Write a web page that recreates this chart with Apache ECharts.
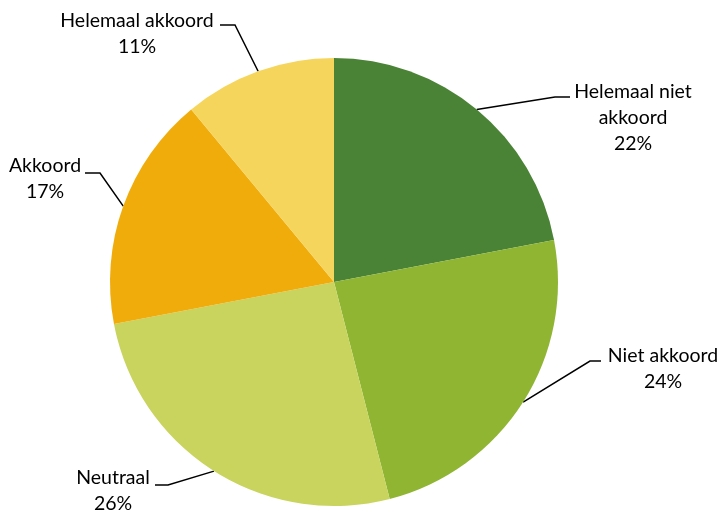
<!DOCTYPE html>
<html>
<head>
<meta charset="utf-8">
<script src="https://cdn.jsdelivr.net/npm/echarts@6/dist/echarts.min.js"></script>
<style>
  html, body { margin: 0; padding: 0; background: #fff; }
  #chart { width: 720px; height: 511px; }
</style>
</head>
<body>
<div id="chart"></div>
<script>
// Answer categories, clockwise from 12 o'clock
const categories = ['Helemaal niet akkoord', 'Niet akkoord', 'Neutraal', 'Akkoord', 'Helemaal akkoord'];
// Share of respondents (%)
const shares = [22, 24, 26, 17, 11];
const colors = ['#4a8335', '#8fb533', '#c9d45e', '#f0ac0a', '#f5d55b'];

// Where each label block sits and how its leader line bends
const labelSpots = [
  { x: 633, y: 118, elbow: [555, 97], end: [570, 97] },
  { x: 663, y: 369, elbow: [590, 361], end: [601, 361] },
  { x: 113, y: 491, elbow: [168, 485], end: [155, 485] },
  { x: 45,  y: 179, elbow: [100, 173], end: [85, 173] },
  { x: 137, y: 34,  elbow: [235, 25], end: [220, 25] }
];

const chart = echarts.init(document.getElementById('chart'), null, { renderer: 'canvas' });
chart.setOption({
  animation: false,
  color: colors,
  series: [{
    type: 'pie',
    center: [334, 282],
    radius: 224,
    startAngle: 90,
    clockwise: true,
    avoidLabelOverlap: false,
    itemStyle: { borderWidth: 0 },
    label: {
      show: true,
      position: 'outside',
      fontFamily: 'Lato',
      fontSize: 19.5,
      lineHeight: 26,
      color: '#000',
      formatter: p => p.name.replace('niet ', 'niet\n') + '\n' + p.value + '%'
    },
    labelLine: {
      show: true,
      length: 20,
      length2: 15,
      lineStyle: { color: '#000', width: 1.5 }
    },
    labelLayout: params => {
      const s = labelSpots[params.dataIndex];
      const start = params.labelLinePoints ? params.labelLinePoints[0] : s.elbow;
      return {
        x: s.x,
        y: s.y,
        align: 'center',
        verticalAlign: 'middle',
        labelLinePoints: [start, s.elbow, s.end]
      };
    },
    data: categories.map((name, i) => ({ name: name, value: shares[i] }))
  }]
});
</script>
</body>
</html>
